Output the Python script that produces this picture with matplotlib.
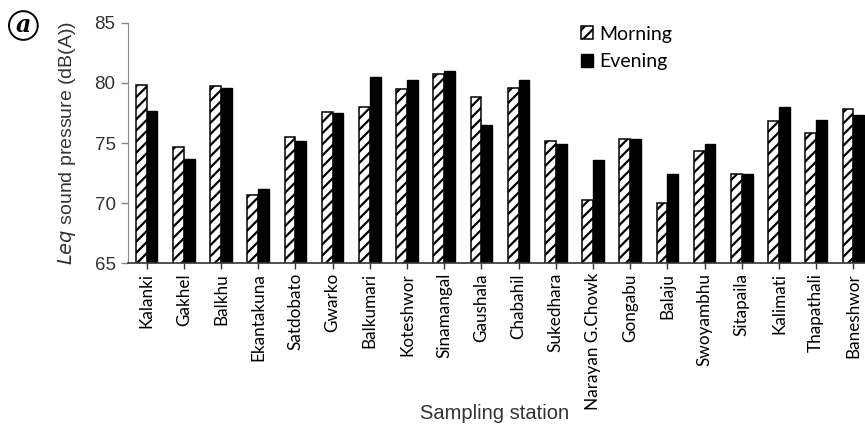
import matplotlib.pyplot as plt
import numpy as np

stations = ["Kalanki", "Gakhel", "Balkhu", "Ekantakuna", "Satdobato", "Gwarko",
            "Balkumari", "Koteshwor", "Sinamangal", "Gaushala", "Chabahil",
            "Sukedhara", "Narayan G.Chowk", "Gongabu", "Balaju", "Swoyambhu",
            "Sitapaila", "Kalimati", "Thapathali", "Baneshwor"]
morning = [79.8, 74.7, 79.7, 70.7, 75.5, 77.6, 78.0, 79.5, 80.7, 78.8,
           79.6, 75.2, 70.3, 75.3, 70.0, 74.3, 72.4, 76.8, 75.8, 77.8]
evening = [77.7, 73.7, 79.6, 71.2, 75.2, 77.5, 80.5, 80.2, 81.0, 76.5,
           80.2, 74.9, 73.6, 75.3, 72.4, 74.9, 72.4, 78.0, 76.9, 77.3]

plt.rcParams['hatch.linewidth'] = 1.6

fig = plt.figure(figsize=(8.65, 4.25), dpi=100)
# plot area runs a little past the right edge of the page
ax = fig.add_axes([0.148, 0.3805, 0.86, 0.566])

x = np.arange(len(stations))
w = 0.29
ax.bar(x - w / 2, morning, w, color="white", edgecolor="black",
       linewidth=1.1, hatch="///", label="Morning")
ax.bar(x + w / 2, evening, w, color="black", edgecolor="black",
       linewidth=1.0, label="Evening")

ax.set_xlim(-0.5, len(stations) - 0.5)
ax.set_ylim(65, 85)
ax.set_yticks([65, 70, 75, 80, 85])
ax.set_xticks(x)
ax.set_xticklabels(stations, rotation=90, family="Lato", fontsize=12.3)
ax.tick_params(axis="x", length=4, width=1, color="#333333", pad=3)
ax.tick_params(axis="y", length=5, width=1, color="#888888", labelsize=13.5, pad=4)
for t in ax.get_yticklabels():
    t.set_family("Liberation Sans")
    t.set_color("#333333")

for s in ["top", "right"]:
    ax.spines[s].set_visible(False)
ax.spines["left"].set_color("#8a8a8a")
ax.spines["bottom"].set_color("#333333")
ax.spines["bottom"].set_linewidth(1.2)

ax.set_ylabel("$\\mathit{Leq}$ sound pressure (dB(A))", family="Liberation Sans",
              fontsize=14, color="#333333", labelpad=12)
fig.text(0.572, 0.028, "Sampling station", family="Liberation Sans",
         fontsize=14.5, color="#333333", ha="center", va="center")

ax.legend(loc="upper left", bbox_to_anchor=(0.585, 1.06), frameon=False,
          prop={"family": "Lato", "size": 14}, handlelength=0.65,
          handleheight=0.65, handletextpad=0.3, labelspacing=0.55)

fig.text(0.027, 0.94, "a", family="DejaVu Serif", style="italic", weight="bold",
         fontsize=17, ha="center", va="center",
         bbox=dict(boxstyle="circle,pad=0.1", fc="white", ec="black", lw=1.4))

fig.savefig("out.png", dpi=100)
